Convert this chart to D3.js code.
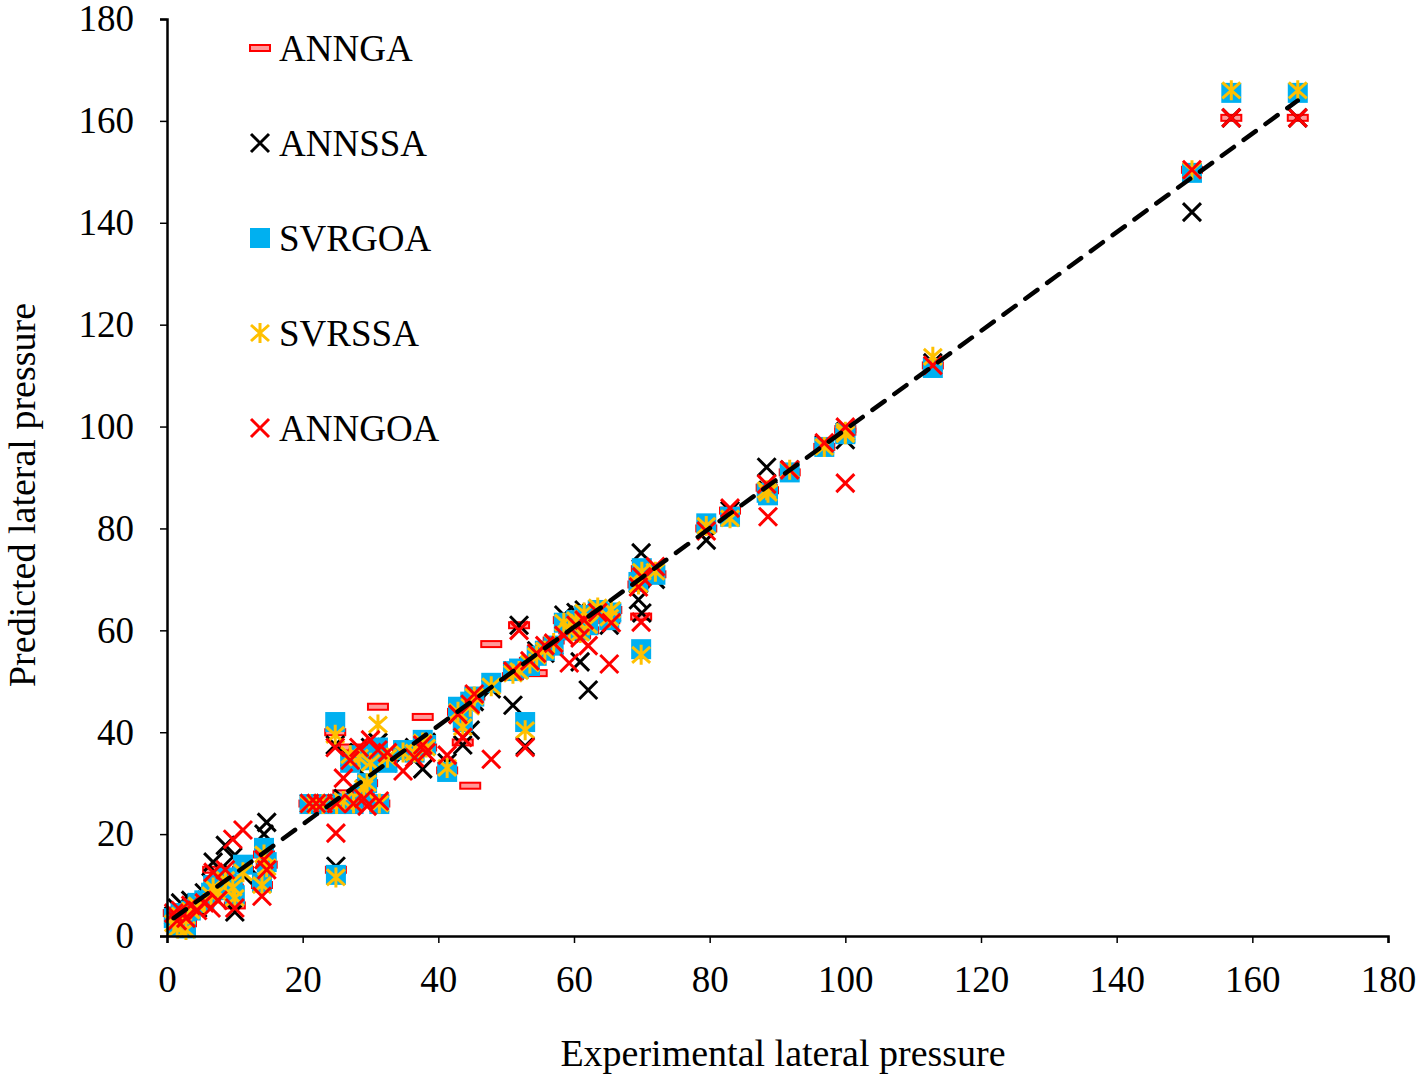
<!DOCTYPE html>
<html>
<head>
<meta charset="utf-8">
<script src="https://cdn.jsdelivr.net/npm/d3@7"></script>
<style>
  body { margin: 0; background: #fff; }
  text { font-family: "Liberation Serif", "Times New Roman", serif; fill: #000; }
</style>
</head>
<body>
<script>
var width = 1419;
var height = 1078;

// experimental lateral pressure (x), one per sample
var experimental = [1.0, 1.5, 2.0, 2.8, 3.5, 4.5, 5.5, 6.5, 6.8, 7.5, 8.6, 9.7, 10.0, 11.2, 14.0, 14.3, 14.7,
    21.0, 22.0, 23.0, 24.8, 24.9, 25.0, 26.0, 27.0, 27.5, 28.3, 29.0, 29.5, 30.0, 31.1, 31.3, 32.5, 34.8,
    36.5, 37.7, 38.2, 41.3, 42.9, 43.6, 44.7, 45.3, 47.8, 51.0, 51.9, 52.8, 53.5, 54.5, 55.7, 57.0, 58.5,
    59.3, 60.3, 60.9, 61.5, 62.1, 63.5, 65.2, 65.5, 69.5, 69.9, 70.0, 72.0, 79.5, 83.0, 88.4, 88.6, 91.8,
    96.9, 100.0, 100.0, 112.9, 151.1, 156.9, 166.7];

// predicted lateral pressure, per model
var annga = [4.5, 3.5, 5.0, 2.5, 5.5, 6.0, 7.0, 8.0, 13.0, 9.0, 12.0, 9.5, 6.0, 13.0, 10.0, 16.0, 14.0,
    26.0, 26.0, 26.0, 40.0, 13.0, 26.0, 28.0, 37.0, 26.0, 36.0, 28.0, 30.0, 35.0, 45.0, 26.0, 35.0, 36.0,
    36.0, 43.0, 37.0, 32.5, 44.0, 38.0, 29.5, 47.0, 57.3, 51.0, 61.0, 53.0, 54.0, 51.6, 56.0, 58.0, 62.0,
    60.0, 62.0, 59.0, 63.0, 60.0, 64.0, 62.0, 64.0, 69.0, 62.7, 72.0, 71.0, 80.0, 83.5, 88.0, 87.5, 91.0,
    96.0, 99.5, 99.0, 112.0, 150.4, 160.6, 160.6];

var annssa = [4.0, 5.5, 6.5, 3.0, 7.0, 5.5, 8.5, 10.5, 14.5, 12.0, 17.8, 15.5, 4.7, 12.0, 11.0, 20.0, 22.3,
    26.0, 26.0, 26.0, 37.5, 13.7, 26.0, 27.0, 35.0, 26.0, 36.0, 27.0, 31.0, 37.0, 38.0, 26.0, 34.0, 35.5,
    37.0, 32.8, 38.0, 34.0, 43.5, 37.5, 40.4, 46.0, 48.5, 45.3, 61.0, 37.3, 53.0, 56.0, 55.5, 57.0, 63.0,
    59.5, 63.5, 53.8, 64.0, 48.3, 64.0, 61.0, 63.5, 66.0, 75.2, 63.4, 70.0, 77.7, 83.5, 92.0, 87.5, 91.5,
    96.5, 97.4, 99.0, 112.5, 142.1, 160.6, 160.6];

var svrgoa = [3.5, 2.0, 4.5, 1.5, 5.0, 6.5, 7.0, 8.5, 10.0, 9.0, 11.5, 10.0, 8.0, 14.0, 10.5, 17.3, 14.5,
    25.9, 25.9, 25.9, 42.0, 12.0, 25.9, 26.0, 34.0, 25.9, 35.5, 28.0, 30.0, 34.5, 37.0, 25.9, 34.0, 36.5,
    36.0, 38.5, 37.5, 32.2, 45.0, 42.0, 46.0, 47.0, 49.7, 52.0, 52.5, 42.0, 53.0, 55.0, 56.0, 57.0, 61.5,
    60.0, 62.0, 60.0, 63.0, 61.0, 64.0, 62.0, 63.5, 69.5, 56.3, 72.2, 70.9, 81.0, 82.3, 87.0, 86.5, 91.0,
    96.0, 98.7, 98.5, 111.5, 149.8, 165.5, 165.5];

var svrssa = [2.5, 1.5, 4.0, 1.2, 5.0, 6.0, 6.5, 8.0, 9.5, 8.5, 11.0, 9.5, 7.5, 12.5, 10.0, 16.0, 13.5,
    25.9, 25.9, 25.9, 39.5, 11.5, 25.9, 26.5, 35.5, 26.0, 35.0, 29.0, 30.0, 34.0, 41.5, 26.0, 35.0, 36.0,
    36.0, 38.0, 37.0, 33.0, 44.0, 41.0, 45.0, 47.0, 49.0, 51.5, 52.0, 40.4, 53.5, 55.0, 56.0, 57.5, 61.5,
    60.0, 62.0, 59.5, 63.5, 61.0, 64.5, 62.5, 64.0, 69.0, 55.2, 71.5, 71.5, 80.5, 82.0, 87.5, 87.0, 91.5,
    96.0, 99.0, 98.5, 113.7, 150.3, 166.0, 166.0];

var anngoa = [4.5, 3.0, 5.0, 3.5, 6.0, 5.0, 6.5, 5.5, 12.5, 7.0, 13.0, 19.0, 5.5, 20.8, 7.8, 15.0, 13.0,
    26.0, 26.0, 26.0, 37.0, 20.2, 26.0, 31.0, 34.5, 26.0, 37.0, 27.0, 25.5, 38.5, 36.5, 26.5, 36.0, 32.4,
    35.0, 37.5, 36.0, 35.5, 43.5, 39.0, 45.5, 47.5, 34.7, 52.0, 60.0, 37.0, 54.0, 55.5, 57.0, 57.5, 59.0,
    53.6, 61.0, 58.5, 62.0, 57.0, 63.5, 53.4, 61.5, 68.5, 61.6, 70.5, 72.5, 79.5, 84.0, 88.7, 82.3, 91.5,
    96.8, 99.9, 88.9, 112.0, 150.4, 160.6, 160.6];

var seriesNames = ["ANNGA", "ANNSSA", "SVRGOA", "SVRSSA", "ANNGOA"];
var seriesValues = [annga, annssa, svrgoa, svrssa, anngoa];
var seriesColors = ["#ff0000", "#000000", "#00b0f0", "#ffc000", "#ff0000"];
var seriesMarkers = ["dash", "cross", "square", "star", "cross"];

// dashed reference line
var lineX = [1.0, 166.7];
var lineY = [3.5, 164.0];

var xTicks = [0, 20, 40, 60, 80, 100, 120, 140, 160, 180];
var yTicks = [0, 20, 40, 60, 80, 100, 120, 140, 160, 180];

var margin = {left: 167, right: 31, top: 19, bottom: 142};

var x = d3.scaleLinear().domain([0, 180]).range([margin.left, width - margin.right]);
var y = d3.scaleLinear().domain([0, 180]).range([height - margin.bottom, margin.top]);

var svg = d3.select("body")
    .append("svg")
    .attr("width", width)
    .attr("height", height);

function drawMarker(g, type, color) {
    if (type === "square") {
        g.append("rect")
            .attr("x", -10).attr("y", -10)
            .attr("width", 20).attr("height", 20)
            .attr("fill", color);
    } else if (type === "cross") {
        g.append("path")
            .attr("d", "M-9,-9L9,9M-9,9L9,-9")
            .attr("stroke", color)
            .attr("stroke-width", 3)
            .attr("fill", "none");
    } else if (type === "star") {
        g.append("path")
            .attr("d", "M-9,-8L9,8M-9,8L9,-8M0,-10L0,10")
            .attr("stroke", color)
            .attr("stroke-width", 3)
            .attr("fill", "none");
    } else if (type === "dash") {
        g.append("rect")
            .attr("x", -10).attr("y", -3)
            .attr("width", 20).attr("height", 6)
            .attr("fill", "#ff9a9a")
            .attr("stroke", color)
            .attr("stroke-width", 2);
    }
}

// points, series drawn in legend order
seriesValues.forEach( (vals, s) => {
    svg.append("g")
        .selectAll("g")
        .data(vals)
        .enter()
        .append("g")
        .attr("transform", (d, i) => `translate(${x(experimental[i])},${y(d)})`)
        .each( function() { drawMarker(d3.select(this), seriesMarkers[s], seriesColors[s]); });
});

// dashed line
svg.append("path")
    .datum(lineX.map( (d, i) => [d, lineY[i]] ))
    .attr("d", d3.line().x( (d) => x(d[0]) ).y( (d) => y(d[1]) ))
    .attr("fill", "none")
    .attr("stroke", "#000")
    .attr("stroke-width", 4.5)
    .attr("stroke-linecap", "round")
    .attr("stroke-dasharray", "15,12");

// axes
var xAxis = svg.append("g")
    .attr("transform", `translate(0,${y(0)})`)
    .call(d3.axisBottom(x).tickValues(xTicks).tickSize(7).tickPadding(23));

var yAxis = svg.append("g")
    .attr("transform", `translate(${x(0)},0)`)
    .call(d3.axisLeft(y).tickValues(yTicks).tickSize(7).tickPadding(26));

[xAxis, yAxis].forEach( (a) => {
    a.select(".domain").attr("stroke", "#000").attr("stroke-width", 2.5);
    a.selectAll(".tick line").attr("stroke", "#000").attr("stroke-width", 1.5);
    a.selectAll(".tick text")
        .style("font-family", "'Liberation Serif', serif")
        .style("font-size", "37px")
        .attr("fill", "#000");
});

svg.append("text")
    .attr("x", 783)
    .attr("y", 1066)
    .attr("text-anchor", "middle")
    .style("font-size", "38px")
    .text("Experimental lateral pressure");

svg.append("text")
    .attr("transform", "translate(35,495) rotate(-90)")
    .attr("text-anchor", "middle")
    .style("font-size", "38px")
    .text("Predicted lateral pressure");

// legend
var legend = svg.append("g")
    .selectAll("g")
    .data(seriesNames)
    .enter()
    .append("g")
    .attr("transform", (d, i) => `translate(260,${48 + i * 95})`);

legend.each( function(d, i) { drawMarker(d3.select(this), seriesMarkers[i], seriesColors[i]); });

legend.append("text")
    .attr("x", 19)
    .attr("dy", "0.35em")
    .style("font-size", "37px")
    .text( (d) => d );
</script>
</body>
</html>
